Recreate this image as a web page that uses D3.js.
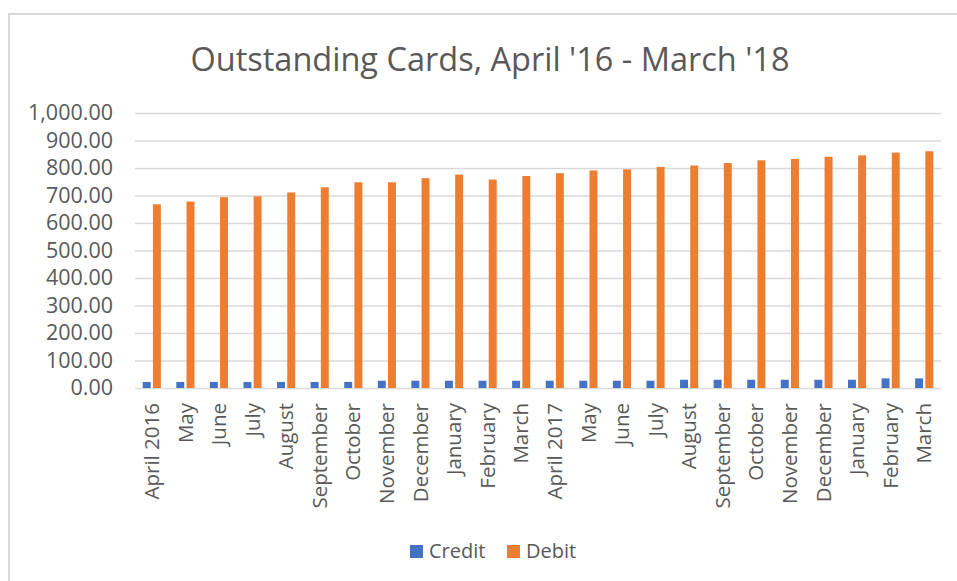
<!DOCTYPE html>
<html>
<head>
<meta charset="utf-8">
<script src="https://cdn.jsdelivr.net/npm/d3@7"></script>
<style>
  html, body { margin: 0; padding: 0; background: #fff; }
  svg { display: block; font-family: "Open Sans", sans-serif; }
</style>
</head>
<body>
<svg id="chart" width="957" height="581"></svg>
<script>
const categories = ["April 2016","May","June","July","August","September","October","November","December","January","February","March","April 2017","May","June","July","August","September","October","November","December","January","February","March"];
const credit = [22,22,22,22,22,22,22,26.5,26.5,26.5,26.5,26.5,26.5,26.5,26.5,26.5,30,30,30,30,30,30,35,35];
const debit = [668,678,694,697,711,730,748,748,763,776,758,771,781,791,795,804,809,818,828,833,841,846,856,861];
const seriesNames = ["Credit","Debit"];
const seriesColors = ["#4472C4","#ED7D31"];
const yTicks = [0,100,200,300,400,500,600,700,800,900,1000];
const title = "Outstanding Cards, April '16 - March '18";

(function () {
const svg = d3.select("#chart");
const textColor = "#595959";
const pLeft = 135, pRight = 941, pTop = 113, pBottom = 388;

// chart border
svg.append("path").attr("d", "M9,581 V14 H957").attr("fill","none").attr("stroke","#d9d9d9").attr("stroke-width",2);

svg.append("text").attr("x", 490).attr("y", 71).attr("text-anchor","middle")
  .attr("font-size", 32.5).attr("fill", textColor).text(title);

const rows = categories.map((c,i) => ({i, c, values: [credit[i], debit[i]]}));

const x0 = d3.scaleBand().domain(d3.range(categories.length)).range([pLeft, pRight])
  .paddingInner(0.46).paddingOuter(0.23);
const x1 = d3.scaleBand().domain(d3.range(seriesNames.length)).range([0, x0.bandwidth()]).paddingInner(0.22);
const y = d3.scaleLinear().domain([0, 1000]).range([pBottom, pTop]);

// gridlines
const yAxis = d3.axisLeft(y).tickValues(yTicks).tickSize(-(pRight-pLeft)).tickFormat(d3.format(",.2f")).tickPadding(22);
const gy = svg.append("g").attr("transform", `translate(${pLeft},0)`).call(yAxis);
gy.select(".domain").remove();
gy.selectAll(".tick line").attr("stroke","#d9d9d9").attr("stroke-width",1.5);
gy.selectAll(".tick text").attr("fill", textColor).attr("font-size", 21.5).attr("font-family","Open Sans");

// bars
const g = svg.append("g");
rows.forEach(r => {
  r.values.forEach((v, s) => {
    g.append("rect")
      .attr("x", x0(r.i) + x1(s))
      .attr("width", x1.bandwidth())
      .attr("y", y(v))
      .attr("height", y(0) - y(v))
      .attr("fill", seriesColors[s]);
  });
});

// x axis labels
const xAxis = d3.axisBottom(d3.scaleBand().domain(categories.map((c,i)=>i)).range([pLeft,pRight])).tickSize(0).tickFormat(i => categories[i]);
const gx = svg.append("g").attr("transform", `translate(0,${pBottom})`).call(xAxis);
gx.select(".domain").remove();
gx.selectAll(".tick text")
  .attr("fill", textColor).attr("font-size", 20.5).attr("font-family","Open Sans")
  .attr("text-anchor","end").attr("transform","rotate(-90)")
  .attr("x", -15).attr("y", 0).attr("dy","0.35em");

// legend
const legend = svg.append("g");
const legendX = [410, 507];
seriesNames.forEach((n, s) => {
  legend.append("rect").attr("x", legendX[s]).attr("y", 545).attr("width", 13).attr("height", 13).attr("fill", seriesColors[s]);
  legend.append("text").attr("x", legendX[s] + 19).attr("y", 558).attr("font-size", 20).attr("fill", textColor).text(n);
});
})();
</script>
</body>
</html>
